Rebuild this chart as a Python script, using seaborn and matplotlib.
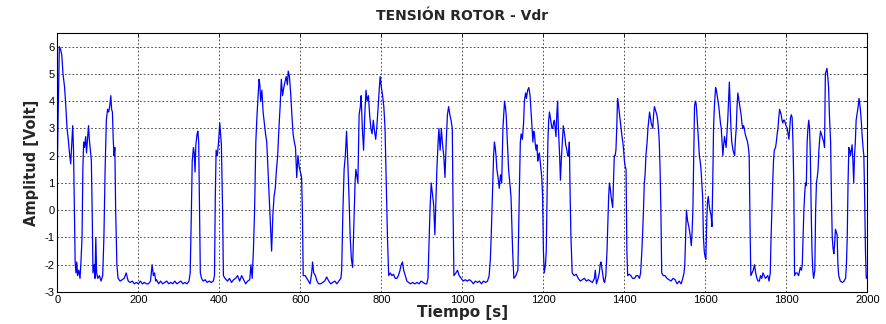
import matplotlib
matplotlib.use("Agg")
import matplotlib.pyplot as plt
import seaborn as sns
import pandas as pd

tiempo = [
    0, 2, 5, 8, 11, 14, 18, 21, 24, 27,
    30, 33, 36, 38, 40, 42, 44, 46, 48, 50,
    53, 56, 58, 61, 63, 65, 67, 70, 72, 75,
    77, 79, 81, 84, 86, 88, 91, 93, 95, 97,
    100, 104, 108, 112, 115, 118, 121, 124, 127, 130,
    132, 134, 136, 138, 140, 142, 144, 147, 150, 155,
    160, 165, 170, 175, 180, 185, 190, 195, 200, 205,
    210, 215, 220, 225, 230, 234, 237, 240, 243, 245,
    250, 255, 260, 265, 270, 275, 280, 285, 290, 295,
    300, 305, 310, 315, 320, 325, 328, 331, 333, 336,
    338, 340, 342, 345, 347, 349, 351, 353, 356, 360,
    365, 370, 375, 380, 385, 388, 390, 392, 395, 398,
    401, 403, 405, 408, 410, 414, 420, 425, 430, 435,
    440, 445, 450, 455, 460, 465, 470, 475, 478, 481,
    484, 487, 490, 493, 496, 498, 500, 502, 505, 508,
    511, 514, 517, 520, 523, 526, 529, 532, 535, 538,
    541, 544, 547, 550, 553, 556, 559, 562, 565, 568,
    570, 573, 576, 579, 582, 585, 588, 591, 594, 597,
    600, 603, 605, 607, 612, 616, 620, 624, 628, 630,
    633, 637, 641, 645, 650, 655, 660, 665, 670, 675,
    680, 685, 690, 695, 700, 702, 705, 708, 711, 714,
    717, 720, 723, 726, 729, 732, 735, 737, 740, 742,
    745, 748, 750, 753, 756, 759, 762, 765, 768, 771,
    774, 777, 780, 783, 786, 789, 792, 795, 797, 800,
    803, 806, 809, 812, 815, 818, 822, 826, 830, 834,
    838, 842, 846, 849, 852, 855, 859, 863, 867, 872,
    877, 883, 888, 893, 898, 903, 908, 912, 915, 918,
    920, 923, 926, 929, 932, 935, 937, 940, 942, 945,
    948, 951, 954, 957, 960, 963, 966, 969, 972, 975,
    977, 979, 984, 988, 992, 997, 1002, 1007, 1012, 1017,
    1022, 1027, 1032, 1037, 1042, 1047, 1052, 1057, 1062, 1066,
    1069, 1071, 1073, 1075, 1077, 1079, 1081, 1083, 1085, 1088,
    1091, 1094, 1097, 1100, 1102, 1104, 1106, 1108, 1111, 1114,
    1117, 1120, 1122, 1124, 1127, 1132, 1137, 1139, 1141, 1143,
    1145, 1148, 1151, 1153, 1156, 1158, 1161, 1164, 1167, 1170,
    1172, 1174, 1176, 1178, 1180, 1182, 1184, 1186, 1188, 1190,
    1192, 1194, 1196, 1198, 1200, 1202, 1205, 1207, 1209, 1211,
    1213, 1215, 1217, 1219, 1221, 1223, 1225, 1227, 1229, 1231,
    1233, 1235, 1237, 1240, 1242, 1244, 1246, 1249, 1251, 1253,
    1255, 1258, 1260, 1262, 1264, 1266, 1268, 1271, 1276, 1281,
    1286, 1291, 1296, 1301, 1306, 1311, 1316, 1321, 1326, 1328,
    1331, 1335, 1338, 1340, 1342, 1344, 1346, 1349, 1351, 1354,
    1357, 1359, 1361, 1363, 1365, 1367, 1369, 1371, 1373, 1375,
    1377, 1379, 1381, 1383, 1385, 1388, 1390, 1392, 1394, 1396,
    1398, 1400, 1402, 1404, 1406, 1408, 1412, 1416, 1420, 1425,
    1429, 1433, 1437, 1440, 1443, 1445, 1447, 1449, 1451, 1453,
    1456, 1458, 1460, 1462, 1464, 1466, 1468, 1470, 1472, 1474,
    1476, 1478, 1480, 1482, 1484, 1486, 1488, 1490, 1492, 1496,
    1500, 1505, 1510, 1515, 1520, 1525, 1530, 1535, 1540, 1544,
    1547, 1549, 1551, 1553, 1556, 1559, 1561, 1563, 1565, 1567,
    1569, 1571, 1573, 1575, 1577, 1579, 1581, 1583, 1585, 1587,
    1589, 1591, 1593, 1595, 1597, 1599, 1601, 1603, 1605, 1607,
    1609, 1611, 1614, 1616, 1618, 1620, 1622, 1625, 1627, 1629,
    1631, 1633, 1635, 1637, 1639, 1641, 1643, 1645, 1647, 1649,
    1651, 1653, 1655, 1657, 1659, 1661, 1663, 1665, 1668, 1670,
    1672, 1674, 1676, 1678, 1680, 1682, 1684, 1686, 1688, 1690,
    1692, 1694, 1696, 1698, 1700, 1702, 1704, 1706, 1708, 1710,
    1712, 1715, 1718, 1721, 1724, 1727, 1730, 1733, 1736, 1739,
    1742, 1745, 1748, 1751, 1754, 1757, 1760, 1762, 1764, 1766,
    1768, 1770, 1773, 1775, 1777, 1779, 1781, 1783, 1785, 1787,
    1789, 1791, 1793, 1795, 1797, 1799, 1802, 1804, 1806, 1808,
    1810, 1812, 1814, 1816, 1818, 1820, 1823, 1826, 1830, 1834,
    1837, 1839, 1841, 1843, 1845, 1847, 1849, 1851, 1853, 1855,
    1857, 1859, 1861, 1863, 1865, 1867, 1870, 1872, 1874, 1876,
    1878, 1880, 1882, 1884, 1886, 1888, 1890, 1892, 1894, 1896,
    1898, 1900, 1902, 1904, 1906, 1909, 1911, 1913, 1915, 1917,
    1919, 1921, 1923, 1925, 1927, 1929, 1933, 1938, 1942, 1946,
    1948, 1950, 1952, 1954, 1956, 1958, 1960, 1962, 1964, 1966,
    1968, 1970, 1972, 1975, 1977, 1979, 1981, 1983, 1985, 1987,
    1989, 1991, 1993, 1995, 1997, 2000,
]

vdr = [
    1.6, 3.5, 6.0, 5.9, 5.7, 5.0, 4.5, 3.8, 3.0, 2.6,
    2.1, 1.7, 2.5, 3.1, 2.2, 0.0, -1.9, -2.3, -1.9, -2.4,
    -2.2, -2.5, -2.0, -1.0, 1.5, 2.5, 2.3, 2.7, 2.1, 2.7,
    3.1, 2.6, 2.3, 1.8, 0.0, -2.3, -2.0, -2.5, -1.0, -2.3,
    -2.5, -2.4, -2.6, -2.4, -1.0, 1.5, 3.3, 3.7, 3.6, 3.9,
    4.2, 3.7, 3.6, 2.6, 2.0, 2.3, 0.0, -2.0, -2.5, -2.6,
    -2.55, -2.5, -2.3, -2.6, -2.65, -2.6, -2.7, -2.65, -2.7, -2.6,
    -2.7, -2.65, -2.7, -2.7, -2.6, -2.0, -2.4, -2.3, -2.6, -2.55,
    -2.7, -2.6, -2.7, -2.65, -2.6, -2.7, -2.65, -2.7, -2.6, -2.7,
    -2.65, -2.6, -2.7, -2.65, -2.7, -2.6, -2.3, 0.0, 1.8, 2.3,
    2.1, 1.4, 2.4, 2.8, 2.9, 2.5, 0.0, -2.3, -2.5, -2.6,
    -2.55, -2.65, -2.6, -2.65, -2.6, -2.4, 0.5, 2.2, 2.0, 2.5,
    3.2, 2.8, 2.4, 0.0, -2.4, -2.5, -2.6, -2.5, -2.65, -2.55,
    -2.5, -2.4, -2.6, -2.4, -2.55, -2.7, -2.6, -2.55, -2.0, -2.5,
    -1.5, 0.0, 2.5, 3.5, 4.3, 4.8, 4.6, 4.0, 4.4, 3.6,
    3.2, 2.8, 2.5, 1.5, 0.5, -0.5, -1.5, -0.2, 0.5, 0.8,
    1.5, 2.0, 3.0, 3.8, 4.8, 4.2, 4.5, 4.7, 4.9, 4.6,
    5.1, 4.9, 4.3, 3.5, 2.8, 2.5, 2.3, 1.2, 2.0, 1.6,
    1.4, 1.2, 0.0, -2.4, -2.4, -2.5, -2.6, -2.7, -2.3, -1.9,
    -2.3, -2.4, -2.6, -2.7, -2.7, -2.65, -2.6, -2.45, -2.6, -2.7,
    -2.65, -2.6, -2.7, -2.6, -2.5, -2.2, 0.0, 1.5, 2.0, 2.9,
    1.8, 0.5, -1.0, -1.8, -2.1, -0.5, 1.0, 1.5, 1.2, 1.0,
    3.5, 3.8, 4.2, 3.0, 2.2, 3.5, 4.4, 4.0, 4.2, 3.5,
    3.0, 2.8, 3.3, 2.9, 2.6, 3.1, 3.8, 4.5, 4.9, 4.5,
    4.2, 3.8, 3.0, 1.0, -1.0, -2.4, -2.3, -2.4, -2.35, -2.5,
    -2.5, -2.4, -2.2, -2.0, -1.9, -2.2, -2.4, -2.6, -2.65, -2.7,
    -2.65, -2.7, -2.65, -2.7, -2.6, -2.65, -2.7, -2.7, -2.5, -1.0,
    0.0, 1.0, 0.6, 0.2, -0.9, 0.5, 1.5, 2.5, 3.0, 2.2,
    3.0, 2.4, 2.0, 1.2, 2.5, 3.5, 3.8, 3.5, 3.3, 3.0,
    0.0, -2.4, -2.3, -2.2, -2.4, -2.5, -2.6, -2.55, -2.6, -2.55,
    -2.6, -2.7, -2.6, -2.65, -2.6, -2.7, -2.6, -2.65, -2.6, -2.4,
    -1.8, -1.0, 0.0, 1.0, 2.0, 2.5, 2.3, 2.0, 1.5, 1.2,
    0.8, 1.3, 1.0, 3.0, 3.5, 4.0, 3.8, 3.5, 2.5, 1.5,
    1.0, 0.5, -0.5, -1.5, -2.5, -2.4, -2.2, -0.5, 1.0, 2.5,
    2.8, 2.6, 3.2, 4.0, 4.3, 4.1, 4.4, 4.5, 4.2, 3.5,
    3.0, 2.5, 2.9, 2.8, 2.4, 2.2, 2.4, 1.8, 2.0, 2.1,
    1.8, 1.5, 1.2, 0.5, -1.5, -2.3, -2.0, -1.5, 0.5, 2.5,
    3.3, 3.6, 3.4, 3.2, 3.0, 3.0, 3.2, 3.3, 3.0, 2.7,
    3.5, 4.0, 3.0, 2.0, 1.1, 1.8, 2.3, 3.1, 2.9, 2.7,
    2.4, 2.2, 2.0, 2.0, 2.5, 0.5, -1.0, -2.3, -2.4, -2.35,
    -2.5, -2.6, -2.55, -2.5, -2.6, -2.55, -2.6, -2.65, -2.5, -2.2,
    -2.7, -2.5, -2.3, -2.0, -1.9, -2.1, -2.3, -2.6, -2.65, -2.4,
    -1.5, -0.5, 0.5, 1.0, 0.8, 0.5, 0.3, 0.1, 1.0, 2.0,
    2.0, 2.2, 3.0, 4.1, 3.9, 3.5, 3.2, 3.0, 2.7, 2.5,
    2.2, 1.8, 1.6, 1.5, -1.5, -2.4, -2.35, -2.4, -2.5, -2.5,
    -2.4, -2.4, -2.5, -2.3, -1.5, -0.8, 0.0, 1.0, 1.3, 2.0,
    2.5, 3.0, 3.3, 3.6, 3.4, 3.2, 3.1, 3.0, 3.5, 3.8,
    3.7, 3.6, 3.5, 3.3, 3.0, 2.5, 1.5, 0.0, -2.3, -2.4,
    -2.4, -2.5, -2.55, -2.6, -2.5, -2.55, -2.7, -2.6, -2.7, -2.5,
    -2.3, -2.0, -1.0, 0.0, -0.4, -0.6, -0.8, -1.0, -1.3, -0.8,
    0.0, 2.0, 3.8, 4.0, 3.9, 3.5, 3.0, 2.5, 2.0, 1.8,
    1.5, 1.0, 0.5, -1.0, -1.5, -1.7, -1.8, -0.5, 0.3, 0.5,
    0.2, 0.0, -0.2, -0.6, 1.0, 3.0, 3.8, 4.5, 4.4, 4.2,
    4.0, 3.8, 3.5, 3.2, 3.0, 2.5, 2.0, 2.4, 2.7, 2.5,
    2.3, 2.8, 3.3, 4.0, 4.7, 3.8, 3.0, 2.5, 2.2, 2.1,
    2.0, 2.6, 3.0, 3.8, 4.3, 4.1, 3.9, 3.7, 3.5, 3.2,
    3.0, 3.1, 3.0, 2.8, 2.7, 2.6, 2.5, 2.3, 2.0, -0.5,
    -2.4, -2.3, -2.2, -2.0, -2.3, -2.5, -2.6, -2.6, -2.4, -2.5,
    -2.3, -2.4, -2.5, -2.45, -2.4, -2.6, -2.3, -1.0, 0.0, 1.0,
    1.8, 2.2, 2.3, 2.5, 2.8, 3.0, 3.4, 3.7, 3.6, 3.5,
    3.3, 3.2, 3.3, 3.3, 3.2, 3.1, 3.0, 2.8, 2.6, 3.0,
    3.4, 3.5, 3.4, 2.5, 1.0, -2.4, -2.3, -2.3, -2.4, -2.1,
    -2.2, -2.0, -1.0, 0.0, 0.6, 1.0, 0.9, 2.5, 3.0, 3.3,
    3.0, 2.0, 0.0, -1.5, -2.2, -2.5, -2.2, 0.0, 1.0, 1.2,
    1.5, 2.2, 2.6, 2.9, 2.8, 2.7, 2.6, 2.5, 2.3, 5.0,
    5.1, 5.2, 4.9, 4.5, 3.5, 2.5, 0.5, -1.0, -1.4, -1.6,
    -1.2, -0.7, -0.8, -0.9, -2.0, -2.4, -2.6, -2.65, -2.6, -2.5,
    -2.0, -1.0, 1.0, 2.3, 2.2, 2.0, 2.2, 2.4, 1.8, 1.0,
    2.0, 2.5, 3.3, 3.6, 3.8, 4.1, 3.9, 3.6, 3.2, 2.7,
    2.3, 2.0, 0.5, -1.5, -2.5, -2.4,
]

x_ticks = [0, 200, 400, 600, 800, 1000, 1200, 1400, 1600, 1800, 2000]
y_ticks = [-3, -2, -1, 0, 1, 2, 3, 4, 5, 6]

titulo = "TENSIÓN ROTOR - Vdr"
etiqueta_x = "Tiempo [s]"
etiqueta_y = "Amplitud [Volt]"

df = pd.DataFrame({"t": tiempo, "v": vdr})

sns.set_style("white")
plt.rcParams["font.family"] = ["DejaVu Sans"]

fig = plt.figure(figsize=(8.86, 3.24), dpi=100)
ax = fig.add_axes([0.0647, 0.0988, 0.9144, 0.7994])

sns.lineplot(data=df, x="t", y="v", ax=ax, color="#0000FF", linewidth=0.9,
             estimator=None, sort=False)

ax.set_xlim(0, 2000)
ax.set_ylim(-3, 6.5)
ax.set_xticks(x_ticks)
ax.set_yticks(y_ticks)
ax.set_xticklabels([str(v) for v in x_ticks], fontsize=8, family="Liberation Sans")
ax.set_yticklabels([str(v) for v in y_ticks], fontsize=8, family="Liberation Sans")
ax.tick_params(direction="in", length=3, width=0.6, top=True, right=True,
               pad=2, colors="black")
ax.grid(True, color="#333333", linestyle=(0, (2, 2.5)), linewidth=0.6)
for s in ax.spines.values():
    s.set_visible(True)
    s.set_color("black")
    s.set_linewidth(0.8)

ax.set_title(titulo, fontsize=10, fontweight="bold", pad=9)
ax.set_xlabel(etiqueta_x, fontsize=11, fontweight="bold", labelpad=0)
ax.set_ylabel(etiqueta_y, fontsize=10.5, fontweight="bold", labelpad=4)

fig.savefig("out.png", dpi=100, facecolor="white")
